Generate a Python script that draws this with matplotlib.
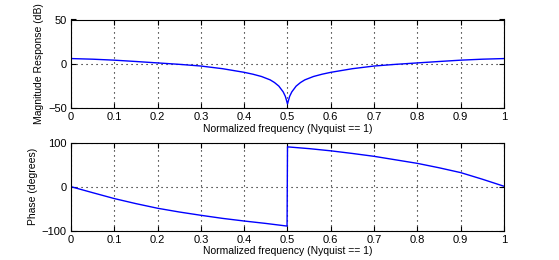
import matplotlib
matplotlib.use("Agg")
import matplotlib.pyplot as plt

# Magnitude response (dB)
mag_freq = [0.0, 0.05, 0.1, 0.15, 0.2, 0.25, 0.3, 0.35, 0.4, 0.42, 0.44, 0.46, 0.47, 0.48, 0.49, 0.495, 0.5,
            0.505, 0.51, 0.52, 0.53, 0.54, 0.56, 0.58, 0.6, 0.65, 0.7, 0.75, 0.8, 0.85, 0.9, 0.95, 1.0]
mag_db = [6.0, 5.3, 4.2, 2.7, 1.1, -0.5, -2.4, -5.4, -9.5, -11.6, -14.2, -18.0, -21.0, -25.0, -31.5, -36.5, -45.0,
          -36.5, -31.5, -25.0, -21.0, -18.0, -14.2, -11.6, -9.5, -5.4, -2.4, -0.5, 1.1, 2.7, 4.2, 5.3, 6.0]

# Phase (degrees)
ph_freq = [0.0, 0.05, 0.1, 0.15, 0.2, 0.25, 0.3, 0.35, 0.4, 0.45, 0.499,
           0.5, 0.55, 0.6, 0.65, 0.7, 0.75, 0.8, 0.85, 0.9, 0.95, 1.0]
ph_deg = [0.0, -13.6, -27.0, -38.5, -49.0, -57.5, -65.0, -72.0, -78.0, -83.5, -89.5,
          90.5, 86.5, 81.5, 75.5, 69.0, 61.0, 53.0, 43.0, 32.0, 17.0, 1.0]

xticks = [0, 0.1, 0.2, 0.3, 0.4, 0.5, 0.6, 0.7, 0.8, 0.9, 1.0]
xticklabels = ["0", "0.1", "0.2", "0.3", "0.4", "0.5", "0.6", "0.7", "0.8", "0.9", "1"]
mag_yticks = [-50, 0, 50]
ph_yticks = [-100, 0, 100]
xlabel = "Normalized frequency (Nyquist == 1)"

plt.rcParams['font.family'] = ['Liberation Sans', 'DejaVu Sans']
plt.rcParams['font.size'] = 8

fig = plt.figure(figsize=(5.59, 2.60), dpi=100)
ax1 = fig.add_axes([0.127, 0.5835, 0.7746, 0.3415])
ax2 = fig.add_axes([0.127, 0.1127, 0.7746, 0.3385])

def style(ax, yt):
    ax.set_xlim(0, 1)
    ax.set_xticks(xticks)
    ax.set_xticklabels(xticklabels)
    ax.set_yticks(yt)
    ax.set_ylim(yt[0], yt[-1])
    ax.grid(True, color='black', linestyle=(0, (1, 3.5)), linewidth=0.8)
    ax.tick_params(direction='in', top=True, right=True, length=3.5, width=0.8,
                   labelsize=8, pad=3)
    for s in ax.spines.values():
        s.set_linewidth(0.8)
    ax.set_xlabel(xlabel, fontsize=7.5, labelpad=1)

ax1.plot(mag_freq, mag_db, color='blue', linewidth=1.0)
style(ax1, mag_yticks)
ax1.set_ylabel("Magnitude Response (dB)", fontsize=7.5, labelpad=3)

ax2.plot(ph_freq, ph_deg, color='blue', linewidth=1.0)
style(ax2, ph_yticks)
ax2.set_ylabel("Phase (degrees)", fontsize=7.5, labelpad=3)

fig.savefig("out.png", dpi=100)
